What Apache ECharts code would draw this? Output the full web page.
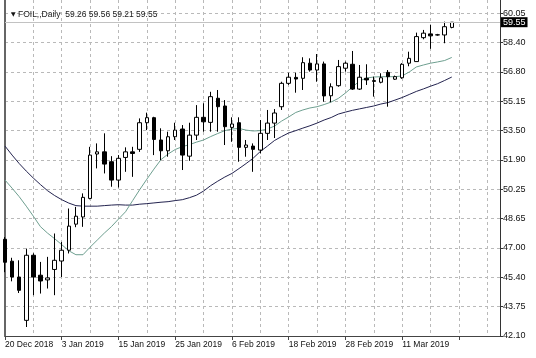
<!DOCTYPE html>
<html><head><meta charset="utf-8">
<script src="https://cdn.jsdelivr.net/npm/echarts@6/dist/echarts.min.js"></script>
<style>html,body{margin:0;padding:0;background:#fff}#c{width:536px;height:358px}</style>
</head><body><div id="c"></div>
<script>
const symbolName = 'FOIL,,Daily';
const dates = [
  '20 Dec 2018','21 Dec 2018','24 Dec 2018','26 Dec 2018','27 Dec 2018','28 Dec 2018','31 Dec 2018','2 Jan 2019',
  '3 Jan 2019','4 Jan 2019','7 Jan 2019','8 Jan 2019','9 Jan 2019','10 Jan 2019','11 Jan 2019','14 Jan 2019',
  '15 Jan 2019','16 Jan 2019','17 Jan 2019','18 Jan 2019','21 Jan 2019','22 Jan 2019','23 Jan 2019','24 Jan 2019',
  '25 Jan 2019','28 Jan 2019','29 Jan 2019','30 Jan 2019','31 Jan 2019','1 Feb 2019','4 Feb 2019','5 Feb 2019',
  '6 Feb 2019','7 Feb 2019','8 Feb 2019','11 Feb 2019','12 Feb 2019','13 Feb 2019','14 Feb 2019','15 Feb 2019',
  '18 Feb 2019','19 Feb 2019','20 Feb 2019','21 Feb 2019','22 Feb 2019','25 Feb 2019','26 Feb 2019','27 Feb 2019',
  '28 Feb 2019','1 Mar 2019','3 Mar 2019','4 Mar 2019','5 Mar 2019','6 Mar 2019','7 Mar 2019','8 Mar 2019',
  '11 Mar 2019','12 Mar 2019','13 Mar 2019','14 Mar 2019','15 Mar 2019','18 Mar 2019','19 Mar 2019','20 Mar 2019'
];
const opens = [47.48,46.26,45.38,42.97,46.59,45.48,45.22,45.80,46.27,46.87,48.32,48.72,49.75,52.22,52.34,51.79,50.77,52.03,52.34,52.48,53.96,54.24,53.00,52.40,53.18,53.61,52.10,53.27,54.26,53.98,55.32,54.89,53.70,53.96,52.59,52.66,52.44,53.37,53.94,54.85,56.15,56.48,56.43,57.27,56.89,57.23,55.46,56.02,56.99,57.21,55.83,56.43,56.30,56.21,56.76,56.38,56.46,57.27,57.36,58.69,58.90,58.84,58.84,59.26];
const closes = [46.20,45.38,44.64,46.59,45.38,45.16,45.33,46.31,46.87,48.21,48.76,49.81,52.16,52.34,51.66,50.77,51.98,52.34,52.25,53.96,54.24,53.03,52.40,53.18,53.55,52.16,53.27,54.26,54.01,55.41,54.85,53.74,53.89,52.59,52.72,52.48,53.37,53.94,54.50,56.15,56.49,56.39,57.30,56.89,57.23,55.45,55.96,57.08,57.27,55.83,56.49,56.34,56.26,56.46,56.52,56.52,57.21,57.54,58.75,58.94,58.79,58.85,59.30,59.55];
const lows = [45.65,45.14,44.49,42.60,44.37,44.46,44.74,44.37,45.38,46.69,48.15,48.17,49.70,51.42,51.14,50.40,50.36,51.23,50.95,52.34,53.55,52.16,51.88,52.07,53.00,51.33,51.84,53.00,53.46,53.46,53.46,52.72,52.90,51.79,52.07,51.23,52.25,53.00,53.11,54.67,56.06,55.63,55.78,56.80,56.24,55.13,55.10,55.96,56.80,55.78,55.78,56.06,55.41,56.15,54.85,56.34,56.40,57.10,57.36,58.60,58.07,58.80,58.38,59.21];
const highs = [47.60,46.45,46.31,46.96,46.70,46.22,46.50,47.80,47.33,49.19,49.28,50.03,52.62,52.81,53.37,52.10,52.16,52.59,52.62,54.20,54.52,54.29,53.65,53.46,53.96,53.83,53.96,54.94,55.04,55.68,55.78,55.22,54.26,54.26,53.00,52.81,54.11,54.67,54.72,56.24,56.74,56.74,57.60,57.54,57.78,57.36,56.15,57.45,57.36,57.95,57.17,57.21,56.52,56.71,56.89,56.58,57.27,57.91,58.97,59.12,59.40,58.90,59.58,59.56];
const maSlow = [52.66,52.16,51.69,51.27,50.88,50.52,50.18,49.91,49.68,49.49,49.35,49.32,49.32,49.32,49.35,49.38,49.40,49.38,49.38,49.43,49.46,49.50,49.54,49.57,49.63,49.68,49.79,49.93,50.16,50.46,50.71,50.94,51.14,51.41,51.69,51.99,52.36,52.66,52.97,53.19,53.39,53.52,53.66,53.79,53.94,54.11,54.25,54.44,54.55,54.65,54.73,54.81,54.89,55.00,55.08,55.22,55.36,55.53,55.70,55.84,55.99,56.13,56.31,56.50];
const maFast = [50.77,50.32,49.85,49.32,48.76,48.18,47.82,47.51,47.18,46.84,46.62,46.62,47.04,47.43,47.82,48.18,48.60,49.01,49.63,50.24,50.82,51.38,51.91,52.22,52.47,52.63,52.74,52.88,53.00,53.19,53.36,53.52,53.61,53.64,53.55,53.50,53.52,53.61,53.77,54.05,54.28,54.53,54.67,54.78,54.85,54.97,55.11,55.31,55.61,55.95,56.28,56.45,56.50,56.52,56.52,56.52,56.56,56.78,57.06,57.17,57.27,57.34,57.42,57.59];
const priceTicks = ['42.10','43.75','45.40','47.00','48.65','50.25','51.90','53.50','55.15','56.80','58.40','60.05'];

const FONT = '"Liberation Sans", Arial, sans-serif';
const n = dates.length;
const last = n - 1;
const tickFirst = parseFloat(priceTicks[0]);
const tickLast = parseFloat(priceTicks[priceTicks.length - 1]);
const tickStep = (tickLast - tickFirst) / (priceTicks.length - 1);
const uTop = 11.45;
const xMax = 69.8;
const gridLine = { type: [3, 3], color: '#b9b9b9', width: 1 };
const isInt = v => Math.abs(v - Math.round(v)) < 1e-6;

const candles = opens.map((o, i) => [i, o, closes[i], lows[i], highs[i]]);
const slowData = maSlow.map((v, i) => [i, v]);
const fastData = maFast.map((v, i) => [i, v]);
const headerValues = [opens[last], highs[last], lows[last], closes[last]].map(v => v.toFixed(2)).join(' ');

const chart = echarts.init(document.getElementById('c'), null, { renderer: 'canvas' });
chart.setOption({
  animation: false,
  backgroundColor: '#fff',
  title: {
    text: '{tri|\u25BC} ' + symbolName + '  ' + headerValues,
    left: 6, top: 5,
    textStyle: { fontSize: 8.5, fontWeight: 'normal', color: '#222', fontFamily: FONT,
      rich: { tri: { fontSize: 6, color: '#111', fontFamily: 'DejaVu Sans' } } }
  },
  grid: { left: 5, right: 36, top: 0, bottom: 22, outerBoundsMode: 'none', containLabel: false },
  xAxis: {
    type: 'value', min: 0, max: xMax, interval: 8,
    axisLine: { show: true, onZero: false, lineStyle: { color: '#444', width: 1 } },
    axisTick: { show: true, length: 4, lineStyle: { color: '#444' } },
    axisLabel: {
      formatter: v => (isInt(v) && Math.round(v) < n) ? dates[Math.round(v)] : '',
      align: 'left', margin: 4, fontSize: 8.5, color: '#111', fontFamily: FONT,
      showMaxLabel: false
    },
    splitLine: { show: true, showMinLine: false, showMaxLine: false, lineStyle: gridLine },
    minorTick: { show: false, splitNumber: 2 },
    minorSplitLine: { show: true, lineStyle: gridLine }
  },
  yAxis: [
    {
      type: 'value', position: 'left', min: tickFirst, max: tickFirst + uTop * tickStep,
      axisLine: { show: true, onZero: false, lineStyle: { color: '#666', width: 2 } },
      axisTick: { show: false }, axisLabel: { show: false }, splitLine: { show: false }
    },
    {
      type: 'value', position: 'right', min: 0, max: uTop, interval: 1,
      axisLine: { show: true, onZero: false, lineStyle: { color: '#333', width: 1 } },
      axisTick: { show: true, length: 3, lineStyle: { color: '#333' } },
      axisLabel: {
        formatter: v => isInt(v) && Math.round(v) < priceTicks.length ? priceTicks[Math.round(v)] : '',
        margin: 3, fontSize: 9, color: '#111', fontFamily: FONT, showMaxLabel: false
      },
      splitLine: { show: true, showMinLine: false, showMaxLine: false, lineStyle: gridLine }
    }
  ],
  series: [
    {
      type: 'line', name: 'MA slow', xAxisIndex: 0, yAxisIndex: 0, data: slowData,
      symbol: 'none', z: 2, silent: true,
      lineStyle: { color: '#23234f', width: 1 }
    },
    {
      type: 'line', name: 'MA fast', xAxisIndex: 0, yAxisIndex: 0, data: fastData,
      symbol: 'none', z: 2, silent: true,
      lineStyle: { color: '#6e9f90', width: 1 }
    },
    {
      type: 'candlestick', name: symbolName, xAxisIndex: 0, yAxisIndex: 0,
      data: candles, encode: { x: 0, y: [1, 2, 3, 4] },
      barWidth: 4, z: 3, silent: true,
      itemStyle: { color: '#fff', color0: '#000', borderColor: '#000', borderColor0: '#000', borderWidth: 1 },
      markLine: {
        silent: true, symbol: ['none', 'none'], animation: false,
        data: [{ yAxis: closes[last] }],
        lineStyle: { color: '#c2c2c2', type: 'solid', width: 1 },
        label: {
          show: true, position: 'end', distance: 1,
          formatter: closes[last].toFixed(2),
          color: '#fff', backgroundColor: '#000', padding: [1, 2, 0, 2],
          fontSize: 9, fontFamily: FONT
        }
      }
    }
  ]
});
</script>
</body></html>
